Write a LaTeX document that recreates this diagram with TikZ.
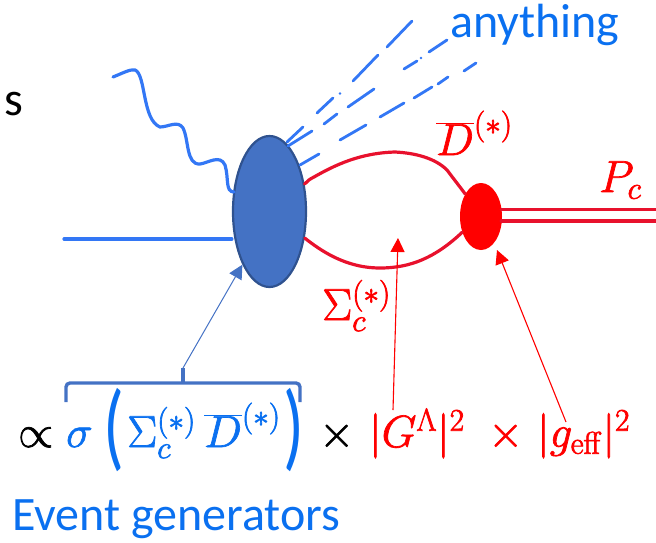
\RequirePackage{fix-cm}
\documentclass[tikz,border=0pt]{standalone}
\usepackage[no-math]{fontspec}
\setmainfont{Carlito}
\usetikzlibrary{arrows.meta,shapes.geometric}
\definecolor{lineblue}{HTML}{3377F5}
\definecolor{textblue}{HTML}{0A70F0}
\definecolor{fillblue}{HTML}{4472C4}
\definecolor{edgeblue}{HTML}{2F528F}
\definecolor{loopred}{HTML}{E8112D}
\definecolor{purered}{HTML}{FF0000}
\tikzset{
  lbl/.style={inner sep=0pt,anchor=base west},
  bluelbl/.style={lbl,text=textblue},
  redlbl/.style={lbl,text=purered},
  blkbl/.style={lbl,text=black},
  parton/.style={draw=lineblue,line width=3.2pt,line cap=round},
  jet/.style={draw=lineblue,line width=2.8pt,line cap=round},
  meson/.style={draw=loopred,line width=3.2pt,line cap=round},
  redarrow/.style={draw=purered,line width=1.1pt,-{Triangle[length=14pt,width=14pt]}},
  bluearrow/.style={draw=fillblue,line width=1pt,-{Triangle[length=14pt,width=14pt]}}
}
\newcommand{\bigfs}{\fontsize{48}{54}\selectfont}
\newcommand{\mathfs}{\fontsize{45}{52}\selectfont}
\newcommand{\parfs}{\fontsize{60}{66}\selectfont}
\newcommand{\hv}[1]{\special{pdf:literal direct 2 Tr 0.7 w}#1\special{pdf:literal direct 0 Tr 1 w}}
\begin{document}
\begin{tikzpicture}[x=1pt,y=-1pt]
\useasboundingbox (0,0) rectangle (656,542);
% blobs
\node[draw=edgeblue,fill=fillblue,line width=2.2pt,ellipse,minimum width=73pt,minimum height=151pt,inner sep=0pt] (blob) at (269.5,211.5) {};
\node[fill=purered,ellipse,minimum width=42pt,minimum height=67pt,inner sep=0pt] (vertex) at (481,216.5) {};
% incoming
\coordinate (beam) at (64,239);
\draw[parton] (beam) -- (blob.west |- beam);
\coordinate (photon) at (113,77);
\draw[parton] (photon) .. controls (123,73) and (130,69) .. (135,70)
  .. controls (146,74) and (142,120) .. (160,127)
  .. controls (168,127) and (178,120) .. (183,128)
  .. controls (189,140) and (186,165) .. (200,164)
  .. controls (208,163) and (220,154) .. (225,165)
  .. controls (229,178) and (225,192) .. (234,192);
% jets
\foreach \a/\b in {{287,142}/{303,127},{317,113}/{333,98},{340,93.5}/{340,93.5},{353,81}/{378,55},{387,47}/{412,21},
  {288,146}/{312,131},{324,124}/{337,114},{348,107}/{374,89},{404,69}/{417,61},{421,58}/{421,58},{429,52}/{447,40},
  {300,165}/{319,154},{340,140}/{366,125},{380,117}/{404,103},{414,98}/{432,87},{438,84}/{448,77},{464,71}/{476,63}}
  \draw[jet] (\a) -- (\b);
% meson loops
\draw[meson] (blob.38) .. controls (307,181) and (310,179) .. (314,177)
  .. controls (335,165) and (360,153) .. (395,152)
  .. controls (415,153) and (435,158) .. (447,170)
  .. controls (453,178) and (460,187) .. (vertex.125);
\draw[meson] (blob.-37) .. controls (320,250) and (345,268) .. (380,268)
  .. controls (410,268) and (435,258) .. (vertex.220);
\coordinate (outa) at (656,209.5);
\coordinate (outb) at (656,221);
\draw[meson] (vertex.east |- outa) ++(-1,0) -- (outa);
\draw[meson] (vertex.east |- outb) ++(-1,0) -- (outb);
% text
\node[blkbl,font=\bigfs] (sfrag) at (4,115) {s};
\node[bluelbl,font=\bigfs] (anything) at (450,37) {anything};
\node[bluelbl,font=\bigfs] (evgen) at (12,530) {Event generators};
\node[redlbl,font=\mathfs] (dbar) at (436,155) {\hv{$\overline{D}^{(*)}$}};
\node[redlbl,font=\mathfs] (pc) at (599,192) {\hv{$P_c$}};
\node[redlbl,font=\mathfs] (sigc) at (322,320) {\hv{$\Sigma_c^{(*)}$}};
\node[blkbl,font=\mathfs] (prop) at (18,447) {\hv{$\propto$}};
\node[bluelbl,font=\mathfs] (sig) at (66,447) {\hv{$\sigma$}};
\node[bluelbl,font=\parfs] (lpar) at (103,458) {\scalebox{1.15}[1.6]{(}};
\node[bluelbl,font=\mathfs] (Sig) at (127,447) {\hv{$\Sigma_c^{(*)}$}};
\node[bluelbl,font=\mathfs] (Dbar) at (204,447) {\hv{$\overline{D}^{(*)}$}};
\node[bluelbl,font=\parfs] (rpar) at (283,458) {\scalebox{1.15}[1.6]{)}};
\node[blkbl,font=\mathfs] (timesa) at (319,447) {\hv{$\times$}};
\node[redlbl,font=\mathfs] (gl) at (369,447) {\hv{$|G^{\Lambda}|^2$}};
\node[redlbl,font=\mathfs] (timesb) at (488,447) {\hv{$\times$}};
\node[redlbl,font=\mathfs] (geff) at (537,447) {\hv{$|g_{\mathrm{eff}}|^2$}};
% brace
\coordinate (bl) at (66,402);
\coordinate (br) at (300,402);
\coordinate (btip) at (183,368);
\draw[draw=fillblue,line width=3.4pt,rounded corners=4pt] (bl) -- (66,383) -- (300,383) -- (br);
\draw[draw=fillblue,line width=3.4pt] (btip) -- (183,383);
% arrows
\draw[bluearrow] (btip) -- (blob.-117);
\coordinate (gtail) at (393,410);
\coordinate (gtip) at (398,238);
\draw[redarrow] (gtail) -- (gtip);
\coordinate (ftail) at (566,422);
\draw[redarrow] (ftail) -- (497,250);
\end{tikzpicture}
\end{document}
